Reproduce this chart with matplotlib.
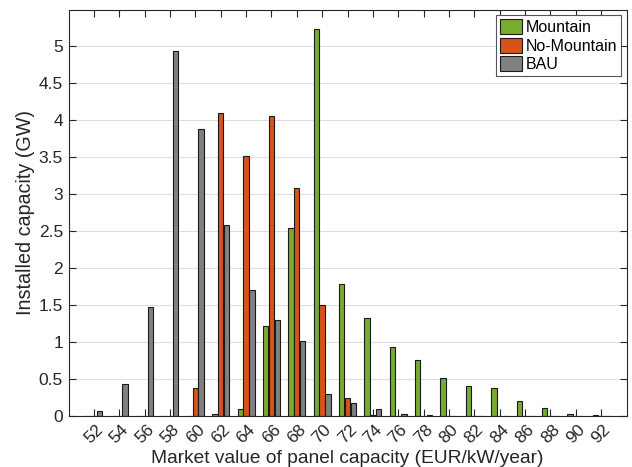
import numpy as np
import matplotlib
matplotlib.use('Agg')
import matplotlib.pyplot as plt

plt.rcParams['font.family'] = ['Liberation Sans', 'DejaVu Sans']

# market value bins (EUR/kW/year)
cats = np.arange(52, 93, 2)

# installed capacity (GW)
mountain = [0, 0, 0, 0.003, 0.005, 0.03, 0.10, 1.22, 2.54, 5.23, 1.79,
            1.32, 0.94, 0.755, 0.52, 0.40, 0.38, 0.20, 0.11, 0.03, 0.01]
no_mountain = [0, 0, 0, 0.003, 0.375, 4.10, 3.52, 4.06, 3.09, 1.50, 0.24,
               0.02, 0, 0, 0, 0, 0, 0, 0, 0, 0]
bau = [0.07, 0.43, 1.47, 4.94, 3.89, 2.59, 1.70, 1.30, 1.01, 0.30, 0.17,
       0.09, 0.03, 0.015, 0.005, 0.003, 0, 0, 0, 0, 0]

names = ['Mountain', 'No-Mountain', 'BAU']
colors = ['#77AC30', '#D95319', '#808080']
series = [mountain, no_mountain, bau]
offsets = [-0.46, 0.0, 0.46]
bw = 0.42

fig = plt.figure(figsize=(6.32, 4.67), dpi=100)
ax = fig.add_axes([0.1084, 0.1092, 0.8829, 0.8704])

for vals, off, col, nm in zip(series, offsets, colors, names):
    ax.bar(cats + off, vals, width=bw, color=col, edgecolor='#1a1a1a',
           linewidth=0.8, label=nm, zorder=3)

ax.set_xlim(50, 94)
ax.set_ylim(0, 5.5)
ax.set_xticks(cats)
ax.set_xticklabels([str(c) for c in cats], rotation=45, ha='center')
ax.set_yticks(np.arange(0, 5.01, 0.5))
ax.set_yticklabels(['0', '0.5', '1', '1.5', '2', '2.5', '3', '3.5', '4', '4.5', '5'])

ax.yaxis.grid(True, color='#dfdfdf', linewidth=0.8, zorder=0)
ax.set_axisbelow(True)

ax.tick_params(axis='both', direction='in', length=5, width=0.8,
               labelsize=12.5, colors='#262626', top=True, right=True)
ax.tick_params(axis='x', pad=4)
ax.tick_params(axis='y', pad=4)
for t in ax.xaxis.get_major_ticks():
    t.tick1line.set_color('#c8c8c8')
    t.tick1line.set_zorder(4)
    t.tick2line.set_color('#262626')

for s in ax.spines.values():
    s.set_color('#262626')
    s.set_linewidth(0.8)
    s.set_zorder(5)

ax.set_xlabel('Market value of panel capacity (EUR/kW/year)', fontsize=13.75,
              color='#262626', labelpad=3)
ax.set_ylabel('Installed capacity (GW)', fontsize=14.2, color='#262626',
              labelpad=2.5)

leg = ax.legend(loc='upper right', fontsize=11.5, frameon=True, fancybox=False,
                framealpha=1, edgecolor='#555555', borderpad=0.25,
                labelspacing=0.15, handlelength=1.4, handleheight=1.1,
                handletextpad=0.2, borderaxespad=0.35)
leg.get_frame().set_linewidth(0.8)

fig.savefig('out.png', dpi=100)
